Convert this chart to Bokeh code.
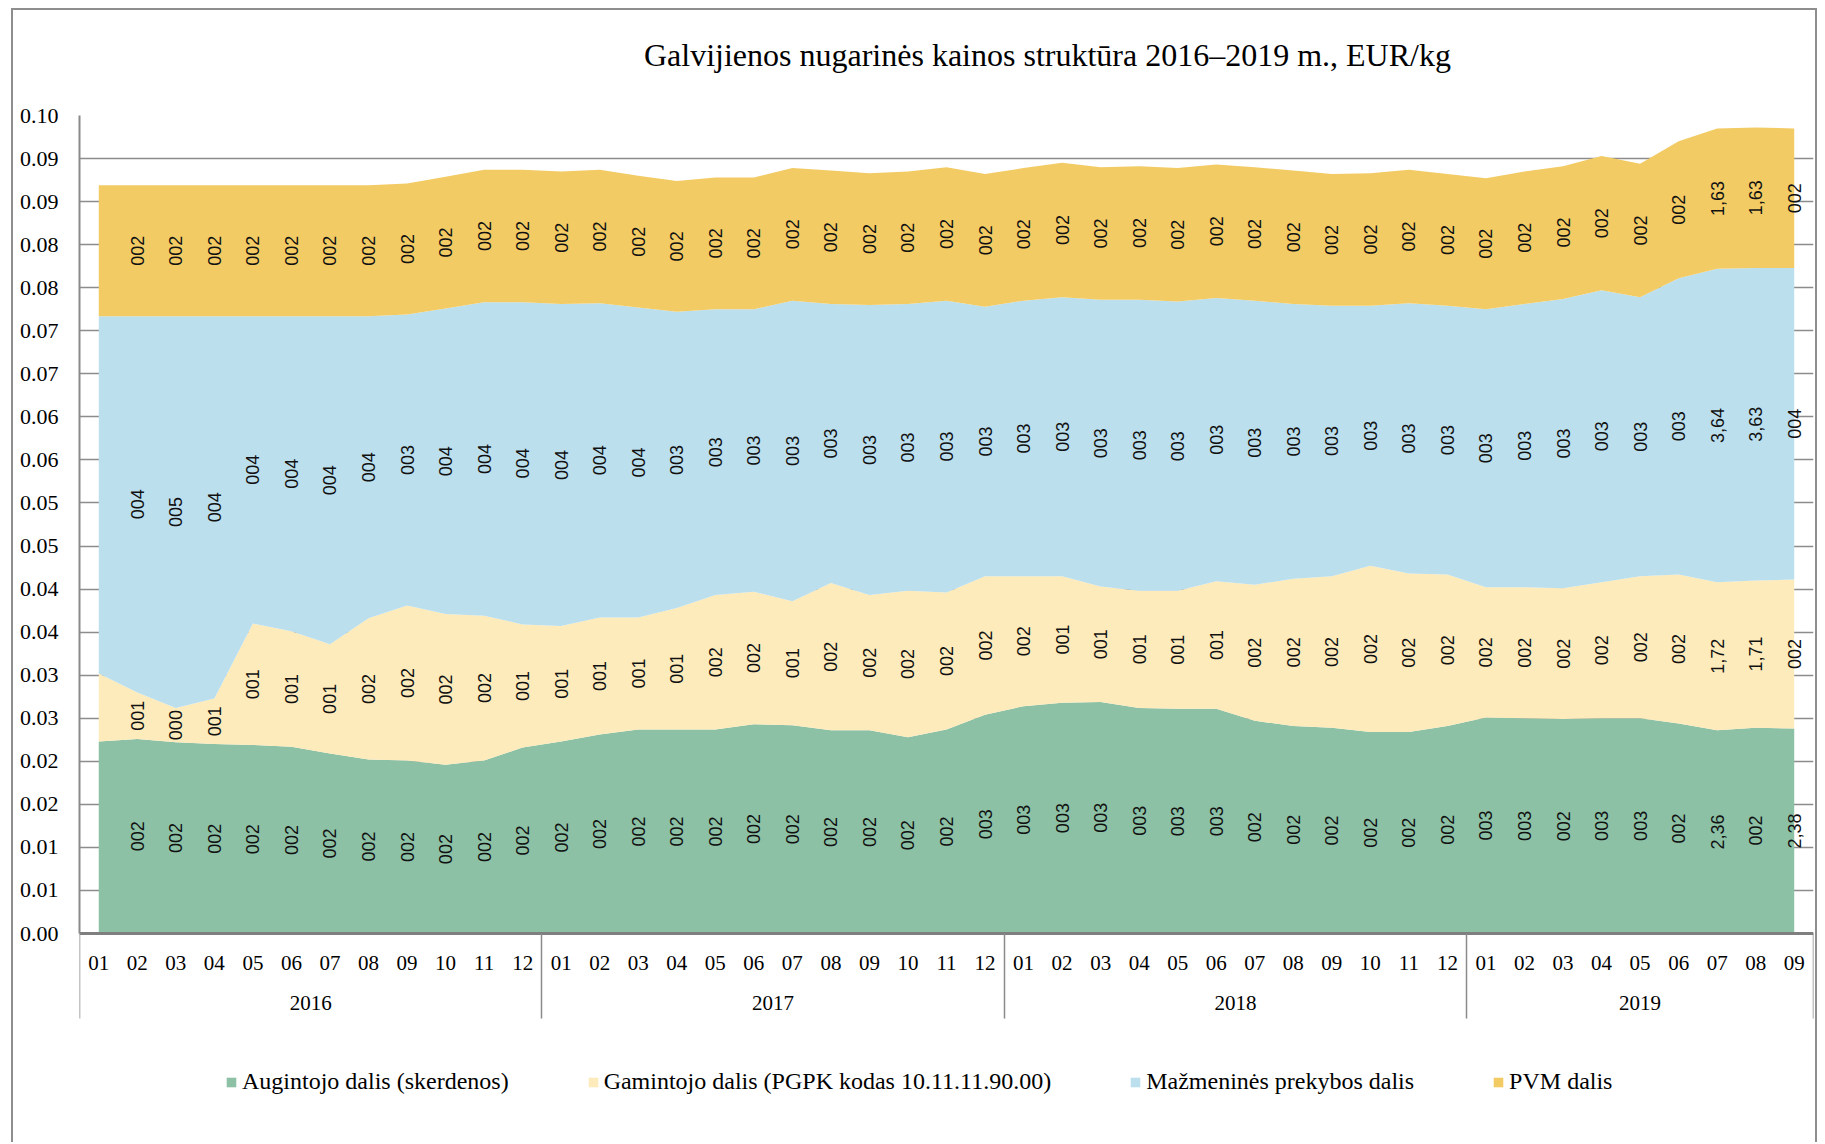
import math
import numpy as np
from bokeh.plotting import figure
from bokeh.models import (ColumnDataSource, Range1d, FixedTicker, CustomJSTickFormatter,
                          LinearAxis, Legend, LegendItem)
from bokeh.core.properties import value
from bokeh.embed import file_html
from bokeh.resources import INLINE

# ---------------- data ----------------
title_text = "Galvijienos nugarinės kainos struktūra 2016–2019 m., EUR/kg"

month_labels = ["01", "02", "03", "04", "05", "06", "07", "08", "09", "10", "11", "12",
                "01", "02", "03", "04", "05", "06", "07", "08", "09", "10", "11", "12",
                "01", "02", "03", "04", "05", "06", "07", "08", "09", "10", "11", "12",
                "01", "02", "03", "04", "05", "06", "07", "08", "09"]
year_labels = ["2016", "2017", "2018", "2019"]
months_per_year = [12, 12, 12, 9]

y_tick_values = [0.0, 0.5, 1.0, 1.5, 2.0, 2.5, 3.0, 3.5, 4.0, 4.5,
                 5.0, 5.5, 6.0, 6.5, 7.0, 7.5, 8.0, 8.5, 9.0, 9.5]
y_tick_labels = ["0.00", "0.01", "0.01", "0.02", "0.02", "0.03", "0.03", "0.04", "0.04", "0.05",
                 "0.05", "0.06", "0.06", "0.07", "0.07", "0.08", "0.08", "0.09", "0.09", "0.10"]

series_names = ["Augintojo dalis (skerdenos)",
                "Gamintojo dalis (PGPK kodas 10.11.11.90.00)",
                "Mažmeninės prekybos dalis",
                "PVM dalis"]

augintojo = [2.23, 2.26, 2.22, 2.20, 2.19, 2.17, 2.09, 2.02, 2.01, 1.96, 2.01, 2.16,
             2.23, 2.31, 2.37, 2.37, 2.37, 2.43, 2.42, 2.36, 2.36, 2.28, 2.37, 2.54,
             2.64, 2.68, 2.69, 2.62, 2.61, 2.61, 2.47, 2.41, 2.39, 2.34, 2.34, 2.41,
             2.51, 2.50, 2.49, 2.50, 2.50, 2.44, 2.36, 2.39, 2.38]
gamintojo = [0.79, 0.54, 0.40, 0.53, 1.41, 1.34, 1.27, 1.64, 1.80, 1.75, 1.68, 1.43,
             1.34, 1.36, 1.30, 1.41, 1.56, 1.54, 1.44, 1.71, 1.57, 1.70, 1.59, 1.61,
             1.51, 1.47, 1.34, 1.36, 1.37, 1.48, 1.58, 1.71, 1.76, 1.93, 1.84, 1.76,
             1.51, 1.52, 1.52, 1.58, 1.65, 1.73, 1.72, 1.71, 1.73]
mazmenine = [4.15, 4.37, 4.55, 4.44, 3.57, 3.66, 3.81, 3.51, 3.38, 3.55, 3.64, 3.74,
             3.74, 3.65, 3.60, 3.44, 3.32, 3.28, 3.49, 3.24, 3.37, 3.33, 3.39, 3.13,
             3.20, 3.24, 3.33, 3.38, 3.36, 3.29, 3.30, 3.19, 3.14, 3.02, 3.14, 3.12,
             3.23, 3.29, 3.36, 3.39, 3.24, 3.44, 3.64, 3.63, 3.62]
pvm = [1.52, 1.52, 1.52, 1.52, 1.52, 1.52, 1.52, 1.52, 1.52, 1.53, 1.54, 1.54,
       1.54, 1.55, 1.53, 1.52, 1.53, 1.53, 1.54, 1.55, 1.53, 1.54, 1.55, 1.54,
       1.54, 1.56, 1.54, 1.55, 1.55, 1.55, 1.55, 1.55, 1.53, 1.54, 1.55, 1.53,
       1.52, 1.54, 1.54, 1.56, 1.55, 1.59, 1.63, 1.63, 1.62]

augintojo_lbl = ([""] + ["002"] * 11 +
                 ["002"] * 11 + ["003"] +
                 ["003"] * 6 + ["002"] * 6 +
                 ["003", "003", "002", "003", "003", "002", "2,36", "002", "2,38"])
gamintojo_lbl = (["", "001", "000", "001", "001", "001", "001", "002", "002", "002", "002", "001"] +
                 ["001", "001", "001", "001", "002", "002", "001", "002", "002", "002", "002", "002"] +
                 ["002", "001", "001", "001", "001", "001", "002", "002", "002", "002", "002", "002"] +
                 ["002", "002", "002", "002", "002", "002", "1,72", "1,71", "002"])
mazmenine_lbl = (["", "004", "005", "004", "004", "004", "004", "004", "003", "004", "004", "004"] +
                 ["004", "004", "004", "003", "003", "003", "003", "003", "003", "003", "003", "003"] +
                 ["003"] * 12 +
                 ["003", "003", "003", "003", "003", "003", "3,64", "3,63", "004"])
pvm_lbl = ([""] + ["002"] * 41 + ["1,63", "1,63", "002"])

colors = ["#8cc1a6", "#fdebbb", "#bcdfee", "#f3cb64"]

SERIF = "Liberation Serif"
GRAY = "#8a8a8a"

# ---------------- layout constants (page pixels) ----------------
CANVAS_TOP = 10
CANVAS_H = 1134
FRAME_TOP = 115        # where the 0.10 line sits
ZERO_Y = 933           # where the x axis sits
Y_MAX = 9.5
px_per_unit = (ZERO_Y - FRAME_TOP) / Y_MAX
y_bottom = -((CANVAS_TOP + CANVAS_H) - ZERO_Y) / px_per_unit   # frame runs to canvas bottom

# ---------------- figure ----------------
n = len(month_labels)
xs = list(range(n))

p = figure(width=1806, height=CANVAS_H, output_backend="svg", toolbar_location=None,
           x_range=Range1d(-0.5, n - 0.5), y_range=Range1d(y_bottom, Y_MAX),
           min_border_left=66, min_border_right=6, min_border_top=FRAME_TOP - CANVAS_TOP,
           min_border_bottom=0, x_axis_type=None)
p.styles = {"margin-left": "11px", "margin-top": "8px",
            "border-left": "2px solid #8e8e8e", "border-top": "2px solid #8e8e8e",
            "border-right": "2px solid #8e8e8e"}
p.outline_line_color = None
p.background_fill_color = "white"
p.border_fill_color = "white"

# chart title, carried by an axis above the plot area so it can sit off-centre
title_pos = 24.62   # x position (in category units) of the title centre
ta = LinearAxis(ticker=FixedTicker(ticks=[title_pos]),
                formatter=CustomJSTickFormatter(args=dict(t=title_text), code="return t;"))
ta.axis_line_color = None
ta.major_tick_line_color = None
ta.minor_tick_line_color = None
ta.major_tick_out = 0
ta.major_tick_in = 0
ta.major_label_standoff = 43
ta.major_label_text_font = SERIF
ta.major_label_text_font_size = "32px"
ta.major_label_text_color = "black"
p.add_layout(ta, "above")

src = ColumnDataSource(dict(x=xs, a=augintojo, g=gamintojo, m=mazmenine, v=pvm))
renderers = p.varea_stack(["a", "g", "m", "v"], x="x", color=colors, source=src)

# data labels (centered in each band)
vals = np.array([augintojo, gamintojo, mazmenine, pvm])
tops = vals.cumsum(axis=0)
mids = tops - vals / 2.0
for k, lbls in enumerate([augintojo_lbl, gamintojo_lbl, mazmenine_lbl, pvm_lbl]):
    s = ColumnDataSource(dict(x=xs, y=list(mids[k]), t=lbls))
    p.text(x="x", y="y", text="t", source=s, angle=math.pi / 2,
           text_align="center", text_baseline="middle",
           text_font=value("Liberation Sans"), text_font_size="18px", text_color="#111111")

# y axis
p.yaxis.ticker = FixedTicker(ticks=y_tick_values)
p.yaxis.bounds = (0, Y_MAX)
p.yaxis.formatter = CustomJSTickFormatter(args=dict(labels=y_tick_labels, vals=y_tick_values),
                                          code="return labels[vals.indexOf(tick)];")
p.yaxis.axis_line_color = GRAY
p.yaxis.axis_line_width = 2
p.yaxis.major_tick_line_color = None
p.yaxis.minor_tick_line_color = None
p.yaxis.major_tick_out = 0
p.yaxis.major_tick_in = 0
p.yaxis.major_label_standoff = 21
p.yaxis.major_label_text_font = SERIF
p.yaxis.major_label_text_font_size = "22px"
p.yaxis.major_label_text_color = "black"

p.ygrid.ticker = FixedTicker(ticks=y_tick_values)
p.ygrid.grid_line_color = "#8c8c8c"
p.ygrid.grid_line_width = 1.5
p.xgrid.grid_line_color = None

# x axes (drawn at y = 0): months, years, group separators
starts = np.cumsum([0] + months_per_year[:-1])
boundaries = [float(s) - 0.5 for s in starts] + [n - 0.5]
centers = [float(s) + (c - 1) / 2.0 for s, c in zip(starts, months_per_year)]

xa = LinearAxis(fixed_location=0, ticker=FixedTicker(ticks=xs),
                formatter=CustomJSTickFormatter(args=dict(labels=month_labels),
                                                code="return labels[Math.round(tick)];"))
xa.axis_line_color = "#7f7f7f"
xa.axis_line_width = 3
xa.major_tick_line_color = None
xa.minor_tick_line_color = None
xa.major_tick_out = 0
xa.major_tick_in = 0
xa.major_label_standoff = 22
xa.major_label_text_font = SERIF
xa.major_label_text_font_size = "21px"
xa.major_label_text_color = "black"
p.add_layout(xa, "below")

ya = LinearAxis(fixed_location=0, ticker=FixedTicker(ticks=centers),
                formatter=CustomJSTickFormatter(args=dict(labels=year_labels, centers=centers),
                                                code="const i = centers.indexOf(tick); return i >= 0 ? labels[i] : '';"))
ya.axis_line_color = None
ya.major_tick_line_color = None
ya.minor_tick_line_color = None
ya.major_tick_out = 0
ya.major_tick_in = 0
ya.major_label_standoff = 62
ya.major_label_text_font = SERIF
ya.major_label_text_font_size = "21px"
ya.major_label_text_color = "black"
p.add_layout(ya, "below")

# separator lines between the year groups (ticks of an axis whose labels are hidden)
sep = LinearAxis(fixed_location=0, ticker=FixedTicker(ticks=boundaries))
sep.axis_line_color = None
sep.major_tick_line_color = GRAY
sep.major_tick_line_width = 1.5
sep.minor_tick_line_color = None
sep.major_tick_in = 0
sep.major_tick_out = 85
sep.major_label_standoff = 0
sep.major_label_text_font_size = "1px"
sep.major_label_text_color = None
p.add_layout(sep, "below")

# legend (inside the extended frame, below the axes)
legend = Legend(items=[LegendItem(label=nm, renderers=[r]) for nm, r in zip(series_names, renderers)],
                orientation="horizontal", location=(146, 49))
legend.glyph_width = 12
legend.glyph_height = 12
legend.label_standoff = 5
legend.label_height = 24
legend.spacing = 78
legend.padding = 0
legend.margin = 0
legend.border_line_color = None
legend.background_fill_alpha = 0
legend.label_text_font = SERIF
legend.label_text_font_size = "24px"
legend.label_text_color = "black"
p.add_layout(legend, "center")

open("out.html", "w").write(file_html(p, INLINE))
